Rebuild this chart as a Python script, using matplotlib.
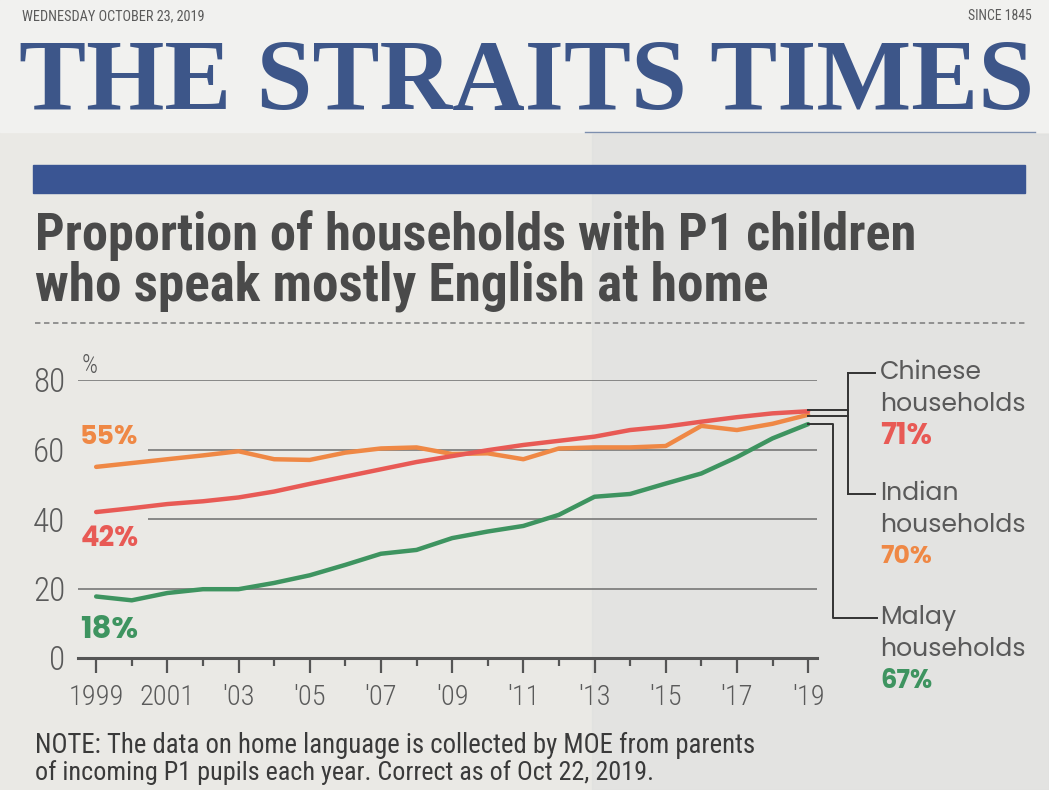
import matplotlib
matplotlib.use("Agg")
import matplotlib.pyplot as plt
from matplotlib import font_manager as fm
from matplotlib.lines import Line2D
from matplotlib.patches import Rectangle

# data (per cent of households)
years = [1999, 2000, 2001, 2002, 2003, 2004, 2005, 2006, 2007, 2008, 2009,
         2010, 2011, 2012, 2013, 2014, 2015, 2016, 2017, 2018, 2019]
chinese = [42.0, 43.1, 44.3, 45.1, 46.2, 47.9, 50.1, 52.2, 54.3, 56.4, 58.1,
           59.8, 61.3, 62.5, 63.7, 65.6, 66.6, 68.0, 69.3, 70.4, 71.0]
indian = [55.0, 56.1, 57.2, 58.3, 59.5, 57.2, 57.0, 59.1, 60.3, 60.6, 58.7,
          58.9, 57.2, 60.3, 60.6, 60.6, 61.0, 66.8, 65.6, 67.4, 70.0]
malay = [17.7, 16.6, 18.7, 19.8, 19.8, 21.6, 23.8, 26.8, 30.0, 31.1, 34.5,
         36.4, 38.0, 41.2, 46.4, 47.2, 50.2, 53.1, 57.8, 63.2, 67.3]

tick_years = [1999, 2001, 2003, 2005, 2007, 2009, 2011, 2013, 2015, 2017, 2019]
tick_labels = ["1999", "2001", "'03", "'05", "'07", "'09", "'11", "'13", "'15", "'17", "'19"]
minor_years = [2000, 2002, 2004, 2006, 2008, 2010, 2012, 2014, 2016, 2018]
y_ticks = [0, 20, 40, 60, 80]
y_labels = ["0", "20", "40", "60", "80"]

W, H = 1049, 790

weights = {}
for f in fm.fontManager.ttflist:
    weights.setdefault(f.name, set()).add(f.weight)


def pick(*cands):
    # first family that has both a regular and a bold face
    for c in cands:
        w = weights.get(c, set())
        if 400 in w and 700 in w:
            return [c, "DejaVu Sans"]
    return ["DejaVu Sans"]


COND = pick("Roboto Condensed", "Archivo Narrow", "Asap Condensed", "Liberation Sans Narrow")
GEO = pick("Montserrat", "Poppins", "Nunito Sans", "Open Sans", "Lato")
SERIF = pick("Playfair Display", "Bodoni Moda", "Liberation Serif")

RED = "#e85a55"
ORANGE = "#ef8845"
GREEN = "#3e9460"
INK = "#4a4a4a"
GREY = "#5a5a5a"
BLUE = "#3d5689"


def fx(x):
    return x / W


def fy(y):
    return 1 - y / H


fig = plt.figure(figsize=(W / 100, H / 100), dpi=100, facecolor="#eae9e5")
fits = []  # (text, target width in px, max font size)

# paper tones
fig.add_artist(Rectangle((0, fy(132)), 1, 132 / H, transform=fig.transFigure,
                         color="#f1f1ef", zorder=0))
fig.add_artist(Rectangle((fx(592), 0), 1 - fx(592), fy(134), transform=fig.transFigure,
                         color="#dedfdf", alpha=0.5, zorder=0))

# masthead
t = fig.text(fx(22), fy(20), "WEDNESDAY OCTOBER 23, 2019", family=COND, fontsize=11,
             color=GREY, va="baseline")
fits.append((t, 183, 12))
t = fig.text(fx(1032), fy(20), "SINCE 1845", family=COND, fontsize=11,
             color=GREY, va="baseline", ha="right")
fits.append((t, 64, 12))
t = fig.text(fx(527), fy(110), "THE STRAITS TIMES", family=SERIF, fontweight="bold",
             fontsize=70, color=BLUE, ha="center", va="baseline")
fits.append((t, 1015, 80))
fig.add_artist(Line2D([fx(585), fx(1035)], [fy(132), fy(132)], color="#7d8fae", lw=1))
fig.add_artist(Rectangle((fx(33), fy(193)), fx(1025) - fx(33), 28 / H,
                         transform=fig.transFigure, color="#3a5593"))

# title
t = fig.text(fx(35), fy(250), "Proportion of households with P1 children", family=COND,
             fontweight="bold", fontsize=34, color=INK, va="baseline")
fits.append((t, 880, 40))
t = fig.text(fx(35), fy(300), "who speak mostly English at home", family=COND,
             fontweight="bold", fontsize=34, color=INK, va="baseline")
fits.append((t, 733, 40))
fig.add_artist(Line2D([fx(35), fx(1025)], [fy(323), fy(323)], color="#8a8a8a", lw=1.3,
                      ls=(0, (3, 2))))

# chart
ax = fig.add_axes([fx(78), fy(658), (817 - 78) / W, (658 - 380) / H])
ax.set_facecolor("none")
ax.set_xlim(1998.49, 2019.25)
ax.set_ylim(0, 80)
for s in ["top", "right", "left"]:
    ax.spines[s].set_visible(False)
ax.spines["bottom"].set_color("#555555")
ax.spines["bottom"].set_linewidth(2.2)

ax.hlines([20, 80], 1998.49, 2019.25, color="#6e6e6e", lw=1.1)
ax.hlines([40, 60], 2000.46, 2019.25, color="#6e6e6e", lw=1.1)

ax.plot(years, malay, color=GREEN, lw=3.2, clip_on=False, solid_capstyle="round")
ax.plot(years, indian, color=ORANGE, lw=3.2, clip_on=False, solid_capstyle="round")
ax.plot(years, chinese, color=RED, lw=3.2, clip_on=False, solid_capstyle="round")

ax.set_xticks(tick_years)
ax.set_xticklabels(tick_labels, family=COND, fontweight="light", fontsize=21, color=GREY)
ax.set_xticks(minor_years, minor=True)
ax.tick_params(axis="x", which="major", length=11, width=1.6, color="#555555", pad=8)
ax.tick_params(axis="x", which="minor", length=6, width=1.6, color="#555555")
ax.set_yticks(y_ticks)
ax.set_yticklabels(y_labels, family=COND, fontweight="light", fontsize=24, color=GREY)
ax.tick_params(axis="y", length=0, pad=9)

ax.text(1998.6, 81.9, "%", family=COND, fontweight="light", fontsize=18, color=GREY,
        va="baseline")
start_labels = [("55%", ORANGE, 63.4), ("42%", RED, 34.0), ("18%", GREEN, 7.8)]
for txt, col, yv in start_labels:
    t = ax.text(1998.55, yv, txt, family=GEO, fontweight="bold", fontsize=20,
                color=col, va="center")
    fits.append((t, 58, 24))

# connectors to the end labels
kw = dict(color="#333333", lw=1.4, clip_on=False)
ax.plot([2019, 2020.12], [chinese[-1] + 0.5, chinese[-1] + 0.5], **kw)
ax.plot([2019, 2020.12], [indian[-1] - 0.3, indian[-1] - 0.3], **kw)
ax.plot([2020.12, 2020.12], [82.0, 47.2], **kw)
ax.plot([2020.12, 2020.88], [82.0, 82.0], **kw)
ax.plot([2020.12, 2020.88], [47.2, 47.2], **kw)
ax.plot([2019, 2019.70, 2019.70, 2020.93], [malay[-1], malay[-1], 11.5, 11.5], **kw)

end_labels = [
    ("Chinese", "71%", RED, 82.0),
    ("Indian", "70%", ORANGE, 47.2),
    ("Malay", "67%", GREEN, 11.5),
]
word_texts = []
for name, pct, col, yv in end_labels:
    t1 = ax.text(2021.02, yv, name, family=GEO, fontsize=18, color=GREY, va="center",
                 clip_on=False)
    t2 = ax.text(2021.02, yv - 9.2, "households", family=GEO, fontsize=18, color=GREY,
                 va="center", clip_on=False)
    t3 = ax.text(2021.02, yv - 18.4, pct, family=GEO, fontweight="bold", fontsize=18,
                 color=col, va="center", clip_on=False)
    word_texts += [t1, t2]
    fits.append((t3, 52, 22))

# note
t = fig.text(fx(35), fy(745), "NOTE: The data on home language is collected by MOE from parents",
             family=COND, fontsize=18, color="#3a3a3a", va="center")
fits.append((t, 720, 20))
t = fig.text(fx(35), fy(773), "of incoming P1 pupils each year. Correct as of Oct 22, 2019.",
             family=COND, fontsize=18, color="#3a3a3a", va="center")
fits.append((t, 620, 20))

# size texts to the widths measured on the reference
fig.canvas.draw()
r = fig.canvas.get_renderer()
for t, target, cap in fits:
    t.set_fontsize(min(cap, t.get_fontsize() * target / t.get_window_extent(r).width))
hh = word_texts[1]
k = 146 / hh.get_window_extent(r).width
for t in word_texts:
    t.set_fontsize(min(21, t.get_fontsize() * k))
lab = ax.get_xticklabels()[0]
kx = 55 / lab.get_window_extent(r).width
for t in ax.get_xticklabels():
    t.set_fontsize(min(24, t.get_fontsize() * kx))
laby = ax.get_yticklabels()[-1]
ky = 32 / laby.get_window_extent(r).width
for t in ax.get_yticklabels():
    t.set_fontsize(min(27, t.get_fontsize() * ky))

fig.savefig("out.png", dpi=100, facecolor=fig.get_facecolor())
